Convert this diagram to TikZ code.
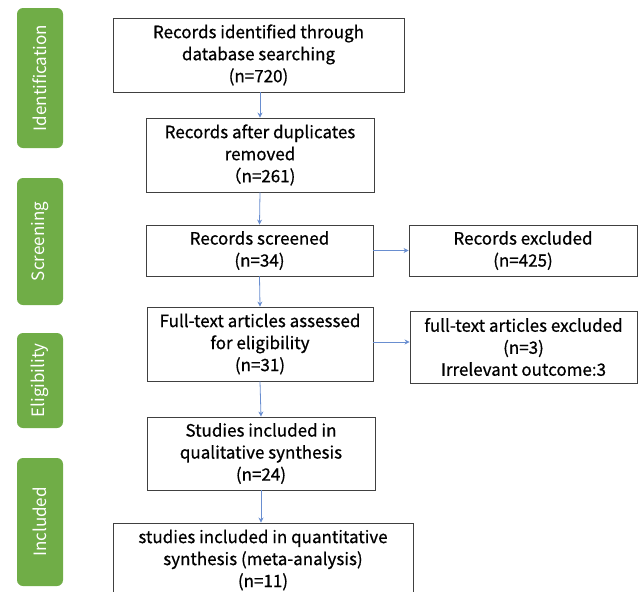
\documentclass[tikz,border=0pt]{standalone}
\usepackage{fontspec}
\setmainfont{Noto Sans CJK SC}[RawFeature={embolden=0.7}]
\newfontfamily\phasefont{Noto Sans CJK SC}
\usetikzlibrary{arrows.meta}
\definecolor{phase}{HTML}{70AD47}
\definecolor{arr}{HTML}{4472C4}
\definecolor{frame}{HTML}{404040}
\tikzset{
  stepbox/.style={draw=frame, line width=0.9pt, rectangle, inner sep=0pt, align=center,
    font=\fontsize{17}{22}\selectfont},
  phasebox/.style={fill=phase, rounded corners=6pt, inner sep=0pt, minimum width=46pt,
    text=white, font=\phasefont\fontsize{17}{19}\selectfont},
  flow/.style={draw=arr!80, line width=0.8pt, -{Stealth[length=5pt,width=5pt,fill=arr]}},
}
\begin{document}
\begin{tikzpicture}
\useasboundingbox (0pt,0pt) rectangle (641pt,-592pt);
\clip (0pt,0pt) rectangle (641pt,-592pt);
% phase labels
\node[phasebox, minimum height=140pt] (pid) at (40pt,-78pt) {\rotatebox{90}{Identification}};
\node[phasebox, minimum height=127pt] (psc) at (40pt,-241.5pt) {\rotatebox{90}{Screening}};
\node[phasebox, minimum height=95pt] (pel) at (40pt,-380.5pt) {\rotatebox{90}{Eligibility}};
\node[phasebox, minimum height=128pt] (pin) at (40pt,-522pt) {\rotatebox{90}{Included}};
% boxes
\node[stepbox, minimum width=291pt, minimum height=74pt] (b1) at (258.5pt,-55pt)
  {Records identified through\\database searching\\(n=720)};
\node[stepbox, minimum width=228pt, minimum height=74pt] (b2) at (260pt,-155pt)
  {Records after duplicates\\removed\\（n=261)};
\node[stepbox, minimum width=227pt, minimum height=51pt] (b3) at (259.5pt,-250.5pt)
  {Records screened\\(n=34)};
\node[stepbox, minimum width=228pt, minimum height=51pt] (e1) at (523pt,-250.5pt)
  {Records excluded\\(n=425)};
\node[stepbox, minimum width=226pt, minimum height=74pt] (b4) at (260pt,-344pt)
  {Full-text articles assessed\\for eligibility\\(n=31)};
\node[stepbox, minimum width=227pt, minimum height=72pt] (e2) at (523.5pt,-347pt)
  {full-text articles excluded\\(n=3)\\Irrelevant outcome:3};
\node[stepbox, minimum width=228pt, minimum height=73pt] (b5) at (261pt,-453.5pt)
  {Studies included in\\qualitative synthesis\\(n=24)};
\node[stepbox, minimum width=300pt, minimum height=74pt] (b6) at (263pt,-560pt)
  {studies included in quantitative\\synthesis (meta-analysis)\\(n=11)};
% connectors
\draw[flow] (b2.north |- b1.south) -- (b2.north);
\draw[flow] (b2.south) -- (b3.north);
\draw[flow] (b3.south) -- (b4.north);
\draw[flow] (b4.south) -- (b5.north);
\draw[flow] (b5.south) -- (b5.south |- b6.north);
\draw[flow] (b3.east) -- (e1.west);
\draw[flow] ([yshift=2pt]b4.east) -- ([yshift=2pt]b4.east -| e2.west);
\end{tikzpicture}
\end{document}
